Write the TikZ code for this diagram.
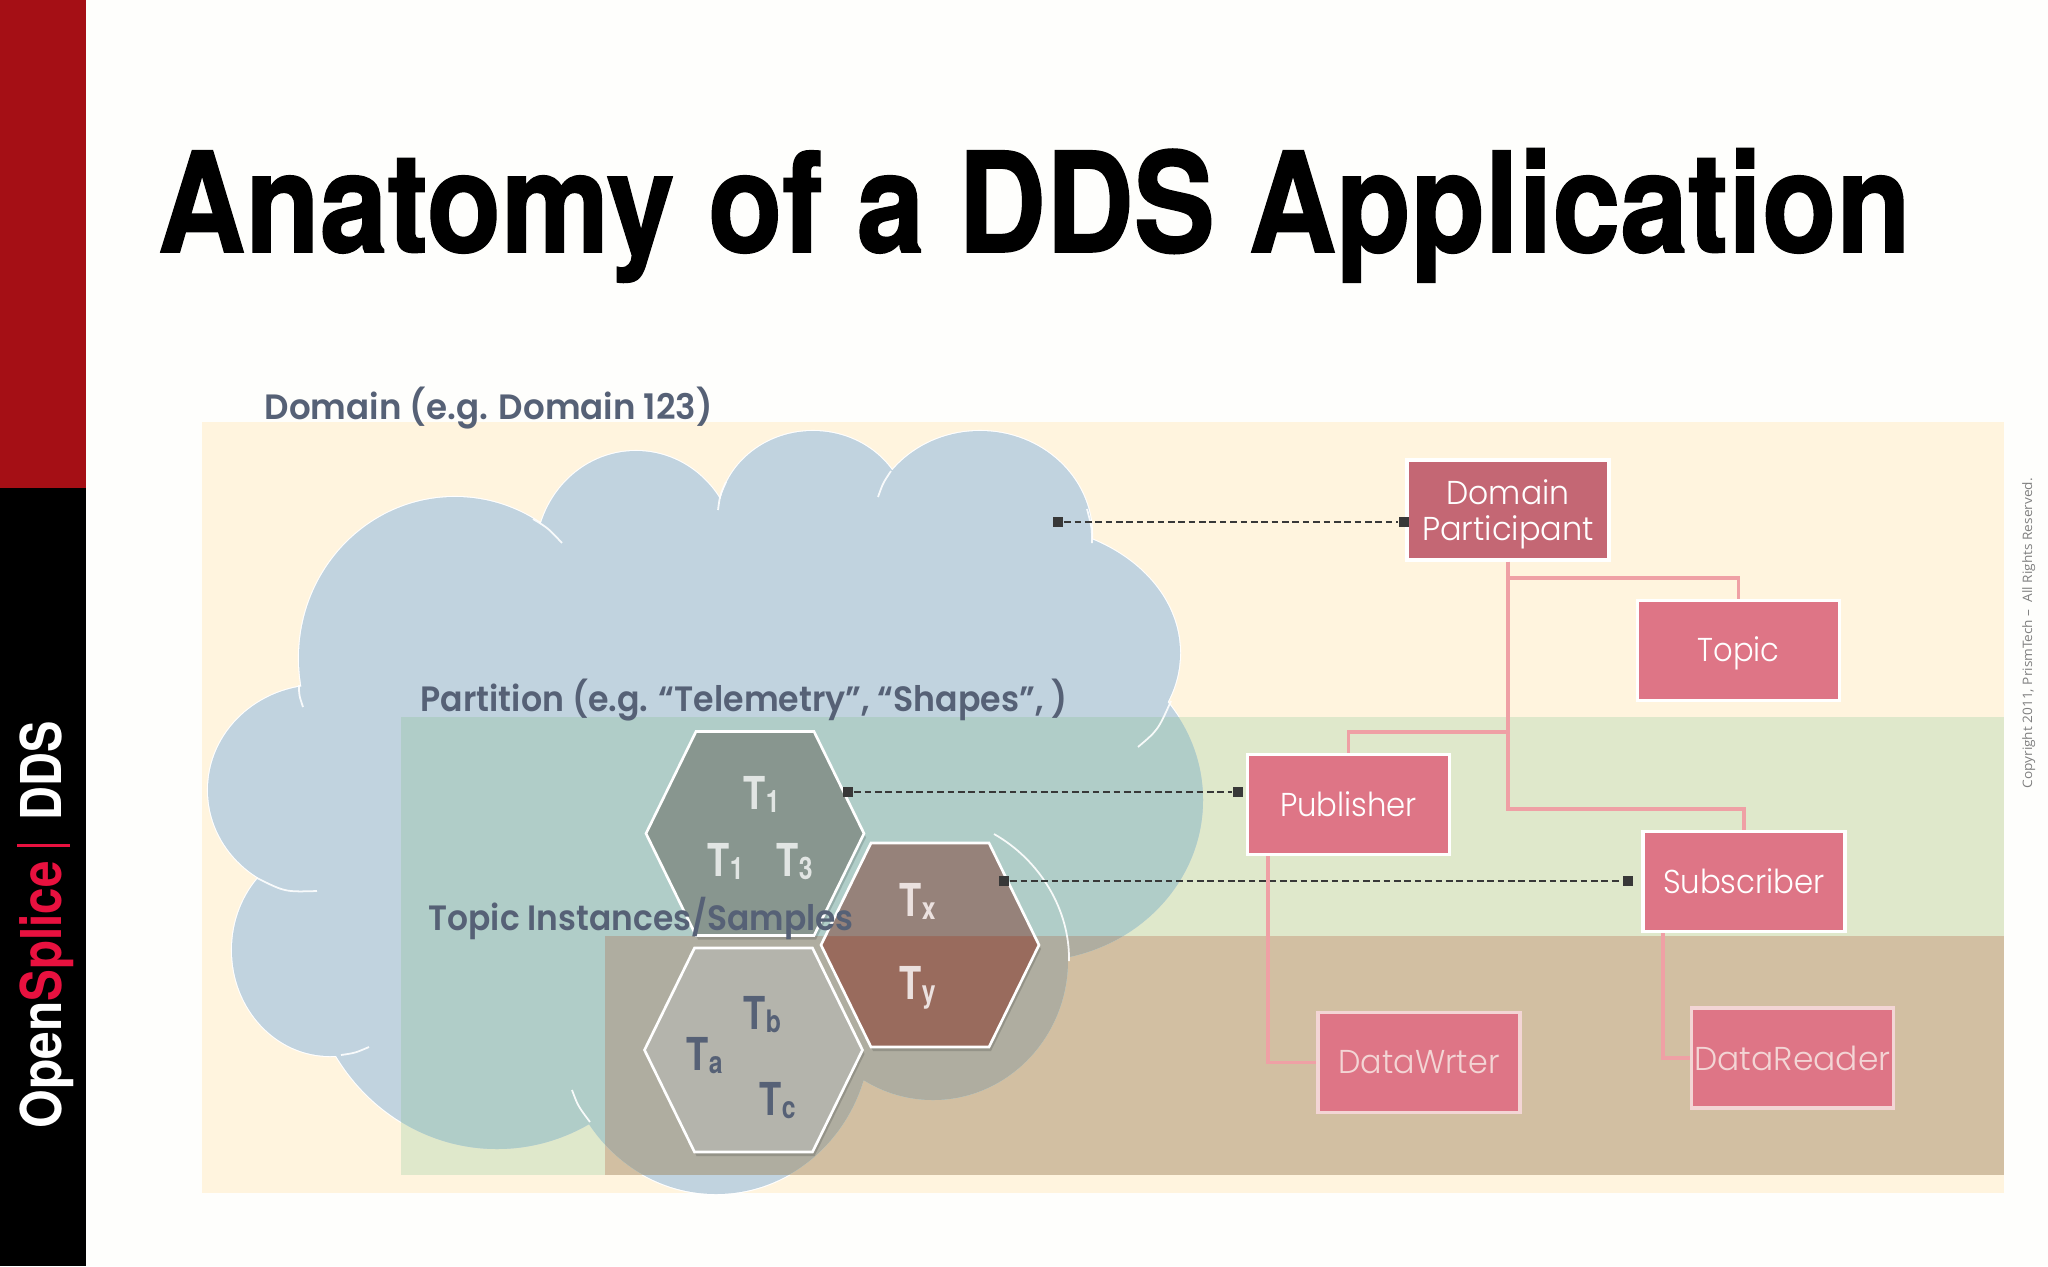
\documentclass[tikz,border=0pt]{standalone}
\usepackage{fontspec}
\usepackage{graphicx}
\setmainfont{TeX Gyre Heros}
\newfontfamily\titlefont{TeX Gyre Heros}[UprightFont=*, BoldFont=* Bold, BoldFeatures={FakeBold=1.2}]
\newfontfamily\labelfont{Poppins}[UprightFont=* SemiBold]
\newfontfamily\boxfont{Poppins}[UprightFont=* Light]
\newfontfamily\smallfont{Open Sans}
\usetikzlibrary{calc}
\definecolor{paper}{HTML}{FEFEFC}
\definecolor{barred}{HTML}{A50F15}
\definecolor{logored}{HTML}{E8113F}
\definecolor{yellowbg}{HTML}{FFF4DE}
\definecolor{greenbg}{HTML}{DFE8CB}
\definecolor{brownbg}{HTML}{D2BFA2}
\definecolor{cloudyellow}{HTML}{C1D3DF}
\definecolor{cloudgreen}{HTML}{B0CDC8}
\definecolor{cloudbrown}{HTML}{AFADA0}
\definecolor{labelgrey}{HTML}{566176}
\definecolor{hexgrey}{HTML}{88968F}
\definecolor{hexred}{HTML}{996B5D}
\definecolor{hexredtop}{HTML}{96827A}
\definecolor{hexpale}{HTML}{B4B4AC}
\definecolor{pinkbox}{HTML}{DE7586}
\definecolor{pinkdark}{HTML}{C46774}
\definecolor{pinkline}{HTML}{EFA0A5}
\definecolor{palepink}{HTML}{F3D5D5}
\definecolor{squaregrey}{HTML}{383838}
\newlength{\pxu}
\setlength{\pxu}{0.01cm}
\newcommand{\fitw}[2]{\resizebox{#1\pxu}{\height}{#2}}
\newcommand{\tallbox}[2]{\raisebox{0pt}[\dimexpr\height+#1\relax]{#2}}
\newcommand{\cloudpath}{
  (650,720) ellipse [x radius=330, y radius=200]
  (455,658) ellipse [x radius=156, y radius=161]
  (636,556) ellipse [x radius=100, y radius=105]
  (813,519) ellipse [x radius=95, y radius=88]
  (980,535) ellipse [x radius=112, y radius=104]
  (1017,653) ellipse [x radius=163, y radius=128]
  (1031,800) ellipse [x radius=172, y radius=161]
  (933,960) ellipse [x radius=135, y radius=140]
  (716,1030) ellipse [x radius=155, y radius=164]
  (497,950) ellipse [x radius=190, y radius=199]
  (330,950) ellipse [x radius=98, y radius=106]
  (320,790) ellipse [x radius=112, y radius=105]
}
\newcommand{\hexcell}[3]{
  \fill[black, opacity=0.15] (#1-109+2,#2+4) -- (#1-59+2,#2-102+4) -- (#1+59+2,#2-102+4)
    -- (#1+109+2,#2+4) -- (#1+59+2,#2+102+4) -- (#1-59+2,#2+102+4) -- cycle;
  \fill[#3] (#1-109,#2) -- (#1-59,#2-102) -- (#1+59,#2-102)
    -- (#1+109,#2) -- (#1+59,#2+102) -- (#1-59,#2+102) -- cycle;
}
\newcommand{\hexedge}[2]{
  \draw[white, line width=0.75pt, line join=miter] (#1-109,#2) -- (#1-59,#2-102) -- (#1+59,#2-102)
    -- (#1+109,#2) -- (#1+59,#2+102) -- (#1-59,#2+102) -- cycle;
}
\newcommand{\hexlabel}[2]{\scalebox{0.8}[1]{\fontsize{12.9}{13}\selectfont\bfseries #1\raisebox{-1.1pt}{\fontsize{8.8}{9}\selectfont #2}}}
\tikzset{
  area label/.style={anchor=base west, inner sep=0, text=labelgrey, font=\labelfont\fontsize{10}{12}\selectfont},
  hex label/.style={anchor=base west, inner sep=0},
  side label/.style={anchor=base west, inner sep=0, rotate=90, font=\bfseries\fontsize{16}{18}\selectfont},
  pink box/.style={draw=white, line width=1pt, fill=pinkbox, text=white, minimum width=2.02cm, minimum height=1cm,
    inner sep=0, align=center, font=\boxfont\fontsize{9.4}{10.25}\selectfont},
  tree line/.style={pinkline, line width=1.05pt},
  end square/.style={fill=squaregrey, minimum size=3.1pt, inner sep=0},
  dash line/.style={squaregrey, line width=0.7pt, dash pattern=on 1.9pt off 1.05pt},
  white tick/.style={white, line width=0.5pt, opacity=0.9},
}

\begin{document}
\begin{tikzpicture}[x=0.01cm, y=-0.01cm]
  \useasboundingbox (0,0) rectangle (2048,1266);
  \fill[paper] (0,0) rectangle (2048,1266);

  % SIDE BAR
  \fill[barred] (0,0) rectangle (86,488);
  \fill[black] (0,488) rectangle (86,1266);
  \node[side label, text=white] (open) at (61,1129) {\fitw{127}{Open}};
  \node[side label, text=logored] (splice) at (61,1002) {\fitw{140}{Splice}};
  \fill[logored] (17,843.5) rectangle (70,846.5);
  \node[side label, text=white] (dds) at (61,821) {\fitw{99}{DDS}};

  % TITLE
  \node[anchor=base west, inner sep=0, font=\titlefont\bfseries\fontsize{39.5}{42}\selectfont] (title) at (157,252)
    {\fitw{1753}{Anatomy of a DDS Application}};

  % AREAS
  \fill[yellowbg] (202,422) rectangle (2004,1193);
  \draw[white, line width=0.6pt] \cloudpath;
  \fill[greenbg] (401,717) rectangle (2004,1175);
  \fill[brownbg] (605,936) rectangle (2004,1175);

  % CLOUD
  \begin{scope}
    \clip \cloudpath;
    \fill[cloudyellow] (150,400) rectangle (1250,1220);
    \fill[cloudgreen] (401,717) rectangle (1250,1175);
    \fill[cloudbrown] (605,936) rectangle (1250,1175);
  \end{scope}

  % CLOUD TICKS
  \draw[white tick] (533,519) .. controls (548,528) .. (562,543);
  \draw[white tick] (718,510) .. controls (720,495) .. (726,482);
  \draw[white tick] (878,497) .. controls (883,483) .. (891,471);
  \draw[white tick] (1092,543) .. controls (1092,528) .. (1087,509);
  \draw[white tick] (1138,747) .. controls (1158,730) .. (1171,701);
  \draw[white tick] (994,834) .. controls (1040,860) and (1070,910) .. (1069,961);
  \draw[white tick] (572,1090) .. controls (578,1106) .. (590,1122);
  \draw[white tick] (341,1055) .. controls (355,1053) .. (369,1047);
  \draw[white tick] (257,878) .. controls (285,892) .. (317,891);
  \draw[white tick] (299,685) .. controls (299,695) .. (303,707);

  % HEXAGONS
  \hexcell{755}{833.5}{hexgrey}
  \hexcell{930}{945}{hexred}
  \fill[hexredtop] (825,936) -- (871,843) -- (989,843) -- (1035,936) -- cycle;
  \hexcell{753.5}{1050}{hexpale}
  \hexedge{755}{833.5}
  \hexedge{930}{945}
  \hexedge{753.5}{1050}

  \node[hex label, text=white!75!hexgrey] (tone) at (743,809) {\hexlabel{T}{1}};
  \node[hex label, text=white!75!hexgrey] (ttwo) at (707,876) {\hexlabel{T}{1}};
  \node[hex label, text=white!75!hexgrey] (tthree) at (776,876) {\hexlabel{T}{3}};
  \node[hex label, text=white!80!hexred] (tx) at (899,916) {\hexlabel{T}{x}};
  \node[hex label, text=white!80!hexred] (ty) at (899,999) {\hexlabel{T}{y}};
  \node[hex label, text=labelgrey] (tb) at (743,1029) {\hexlabel{T}{b}};
  \node[hex label, text=labelgrey] (ta) at (686,1070) {\hexlabel{T}{a}};
  \node[hex label, text=labelgrey] (tc) at (759,1115) {\hexlabel{T}{c}};

  % LABELS
  \node[area label] (domainlabel) at (264,419) {\fitw{448}{Domain (e.g. Domain 123)}};
  \node[area label] (partitionlabel) at (420,711) {\fitw{647}{Partition (e.g. “Telemetry”, “Shapes”, )}};
  \node[area label] (samplelabel) at (428,930) {\fitw{425}{Topic Instances/Samples}};

  % BOXES
  \node[pink box, fill=pinkdark] (participant) at (1508,510) {\tallbox{2.2pt}{\fitw{123}{Domain}}\\[0pt]\fitw{172}{Participant}};
  \node[pink box] (topic) at (1738.5,650.5) {\tallbox{1.5pt}{\fitw{82}{Topic}}};
  \node[pink box] (publisher) at (1348.5,804.5) {\fitw{137}{Publisher}};
  \node[pink box] (subscriber) at (1744,881.5) {\fitw{162}{Subscriber}};
  \node[pink box, draw=palepink, text=palepink] (datawriter) at (1419,1062.5) {\fitw{161}{DataWrter}};
  \node[pink box, draw=palepink, text=palepink] (datareader) at (1792.5,1058) {\fitw{196}{DataReader}};

  % TREE
  \draw[tree line] (participant.south) -- ++(0,16) -| (topic.north);
  \draw[tree line] (participant.south) -- ++(0,170) -| (publisher.north);
  \draw[tree line] (participant.south) -- ++(0,247) -| (subscriber.north);
  \draw[tree line] ([xshift=0.225cm]publisher.south west) |- (datawriter.west);
  \draw[tree line] ([xshift=0.215cm]subscriber.south west) |- (datareader.west);

  % ARROWS
  \node[end square] (cloudend) at (1058,522) {};
  \node[end square] (participantend) at (1404,522) {};
  \node[end square] (hexone) at (848,792) {};
  \node[end square] (publisherend) at (1238,792) {};
  \node[end square] (hextwo) at (1004,881) {};
  \node[end square] (subscriberend) at (1628,881) {};
  \draw[dash line] (cloudend) -- (participantend);
  \draw[dash line] (hexone) -- (publisherend);
  \draw[dash line] (hextwo) -- (subscriberend);

  % COPYRIGHT
  \node[anchor=base west, inner sep=0, rotate=90, text=black!50, font=\smallfont\fontsize{3.7}{4}\selectfont] (copyright) at (2032,789)
    {\fitw{310}{Copyright 2011, PrismTech –\ \ All Rights Reserved.}};

\end{tikzpicture}
\end{document}
